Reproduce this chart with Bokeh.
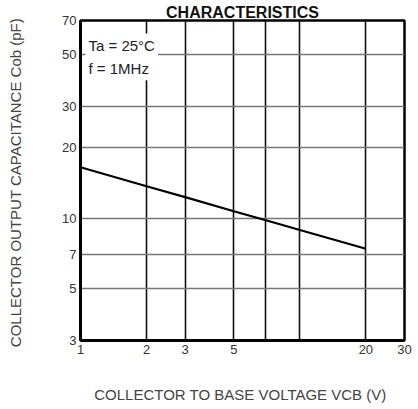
from bokeh.plotting import figure
from bokeh.models import FixedTicker, Label, CustomJSTickFormatter
from bokeh.embed import file_html
from bokeh.resources import INLINE

# ---- data ----
vcb = [1, 2, 3, 5, 7, 10, 20]
cob = [16.5, 13.7, 12.3, 10.7, 9.8, 8.9, 7.4]
x_tick_values = [1, 2, 3, 5, 20, 30]
x_grid_values = [2, 3, 5, 7, 10, 20]
y_tick_values = [3, 5, 7, 10, 20, 30, 50, 70]
y_grid_values = [5, 7, 10, 20, 30, 50]

X0, X1 = 1, 30
Y0, Y1 = 3, 70
W, H = 416, 407
FL, FR, FT, FB = 80, 404, 20, 340

p = figure(width=W, height=H, x_axis_type="log", y_axis_type="log",
           x_range=(X0, X1), y_range=(Y0, Y1),
           output_backend="svg", toolbar_location=None,
           min_border_left=FL, min_border_right=W - FR,
           min_border_top=FT, min_border_bottom=H - FB,
           title="CHARACTERISTICS")
p.background_fill_color = "white"
p.border_fill_color = "white"
p.outline_line_color = "black"
p.outline_line_width = 2.5

p.title.align = "center"
p.title.text_font = "Liberation Sans"
p.title.text_font_style = "bold"
p.title.text_font_size = "16px"
p.title.text_color = "#111111"
p.title.standoff = 0
p.title.offset = 4

fmt = CustomJSTickFormatter(code="return String(tick)")
for ax, tv in ((p.xaxis, x_tick_values), (p.yaxis, y_tick_values)):
    ax.ticker = FixedTicker(ticks=tv)
    ax.formatter = fmt
    ax.major_tick_in = 0
    ax.major_tick_out = 0
    ax.minor_tick_in = 0
    ax.minor_tick_out = 0
    ax.axis_line_color = "black"
    ax.axis_line_width = 3
    ax.major_label_text_font = "Liberation Sans"
    ax.major_label_text_font_size = "13px"
    ax.major_label_text_color = "#333333"
    ax.axis_label_text_font = "Liberation Sans"
    ax.axis_label_text_font_size = "15px"
    ax.axis_label_text_font_style = "normal"
    ax.axis_label_text_color = "#444444"
p.xaxis.major_label_standoff = 4
p.yaxis.major_label_standoff = 4
p.xaxis.axis_label = "COLLECTOR TO BASE VOLTAGE  VCB (V)"
p.yaxis.axis_label = "COLLECTOR OUTPUT CAPACITANCE  Cob (pF)"
p.xaxis.axis_label_standoff = 29
p.yaxis.axis_label_standoff = 35

p.xgrid.ticker = FixedTicker(ticks=x_grid_values)
p.xgrid.grid_line_color = "#111111"
p.xgrid.grid_line_width = 1.6
p.ygrid.ticker = FixedTicker(ticks=y_grid_values)
p.ygrid.grid_line_color = "#777777"
p.ygrid.grid_line_width = 1.6

p.line(vcb, cob, line_color="black", line_width=2.2)

# condition box
p.add_layout(Label(x=85, y=33, x_units="canvas", y_units="canvas",
                   text="Ta = 25°C\nf = 1MHz", text_font="Liberation Sans",
                   text_font_size="15px", text_color="#222222",
                   text_baseline="top", text_align="left",
                   background_fill_color="white", text_line_height=1.4,
                   padding=3))

open("out.html", "w").write(file_html(p, INLINE))
